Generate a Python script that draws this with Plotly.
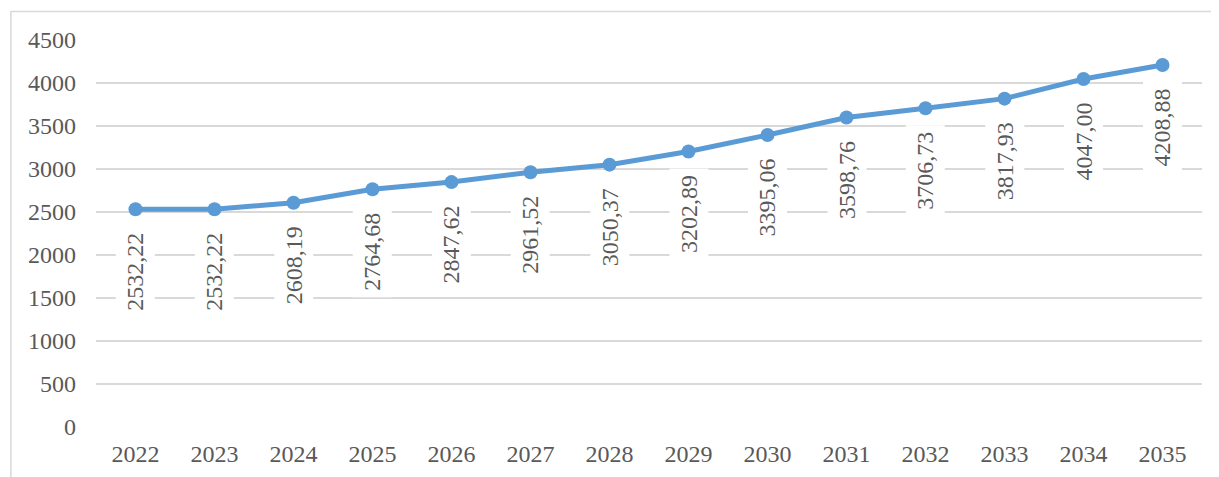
import plotly.graph_objects as go

years = ["2022", "2023", "2024", "2025", "2026", "2027", "2028",
         "2029", "2030", "2031", "2032", "2033", "2034", "2035"]
values = [2532.22, 2532.22, 2608.19, 2764.68, 2847.62, 2961.52, 3050.37,
          3202.89, 3395.06, 3598.76, 3706.73, 3817.93, 4047.00, 4208.88]
labels = ["2532,22", "2532,22", "2608,19", "2764,68", "2847,62", "2961,52", "3050,37",
          "3202,89", "3395,06", "3598,76", "3706,73", "3817,93", "4047,00", "4208,88"]

FONT = "Liberation Serif, Times New Roman, serif"
GRAY = "#595959"
BLUE = "#5B9BD5"

fig = go.Figure()
fig.add_trace(go.Scatter(
    x=years, y=values, mode="lines+markers",
    line=dict(color=BLUE, width=5),
    marker=dict(color=BLUE, size=14),
    showlegend=False, hoverinfo="skip",
))

for i, (v, lab) in enumerate(zip(values, labels)):
    fig.add_annotation(
        x=i, y=v, xref="x", yref="y", text=lab, showarrow=False, textangle=-90,
        xanchor="center", yanchor="top", yshift=-17,
        bgcolor="white", borderpad=6,
        font=dict(family=FONT, size=24, color=GRAY),
    )

fig.add_shape(type="rect", xref="paper", yref="paper",
              x0=-0.077, x1=1.1, y0=-0.3, y1=1.0735,
              line=dict(color="#d9d9d9", width=1.5), layer="below")

fig.update_layout(
    width=1219, height=477,
    margin=dict(l=88, r=25, t=32, b=58),
    paper_bgcolor="white", plot_bgcolor="white",
    font=dict(family=FONT, size=24, color=GRAY),
    xaxis=dict(type="category", range=[-0.5, 13.5], showgrid=False,
               showline=False, zeroline=False, ticks="", ticklabelstandoff=10,
               tickfont=dict(family=FONT, size=24, color=GRAY)),
    yaxis=dict(range=[0, 4500], dtick=500, showgrid=True,
               gridcolor="#d9d9d9", gridwidth=1.5, zeroline=False,
               showline=False, ticks="", ticklabelstandoff=19,
               tickfont=dict(family=FONT, size=24, color=GRAY)),
)

fig.write_html("out.html")
